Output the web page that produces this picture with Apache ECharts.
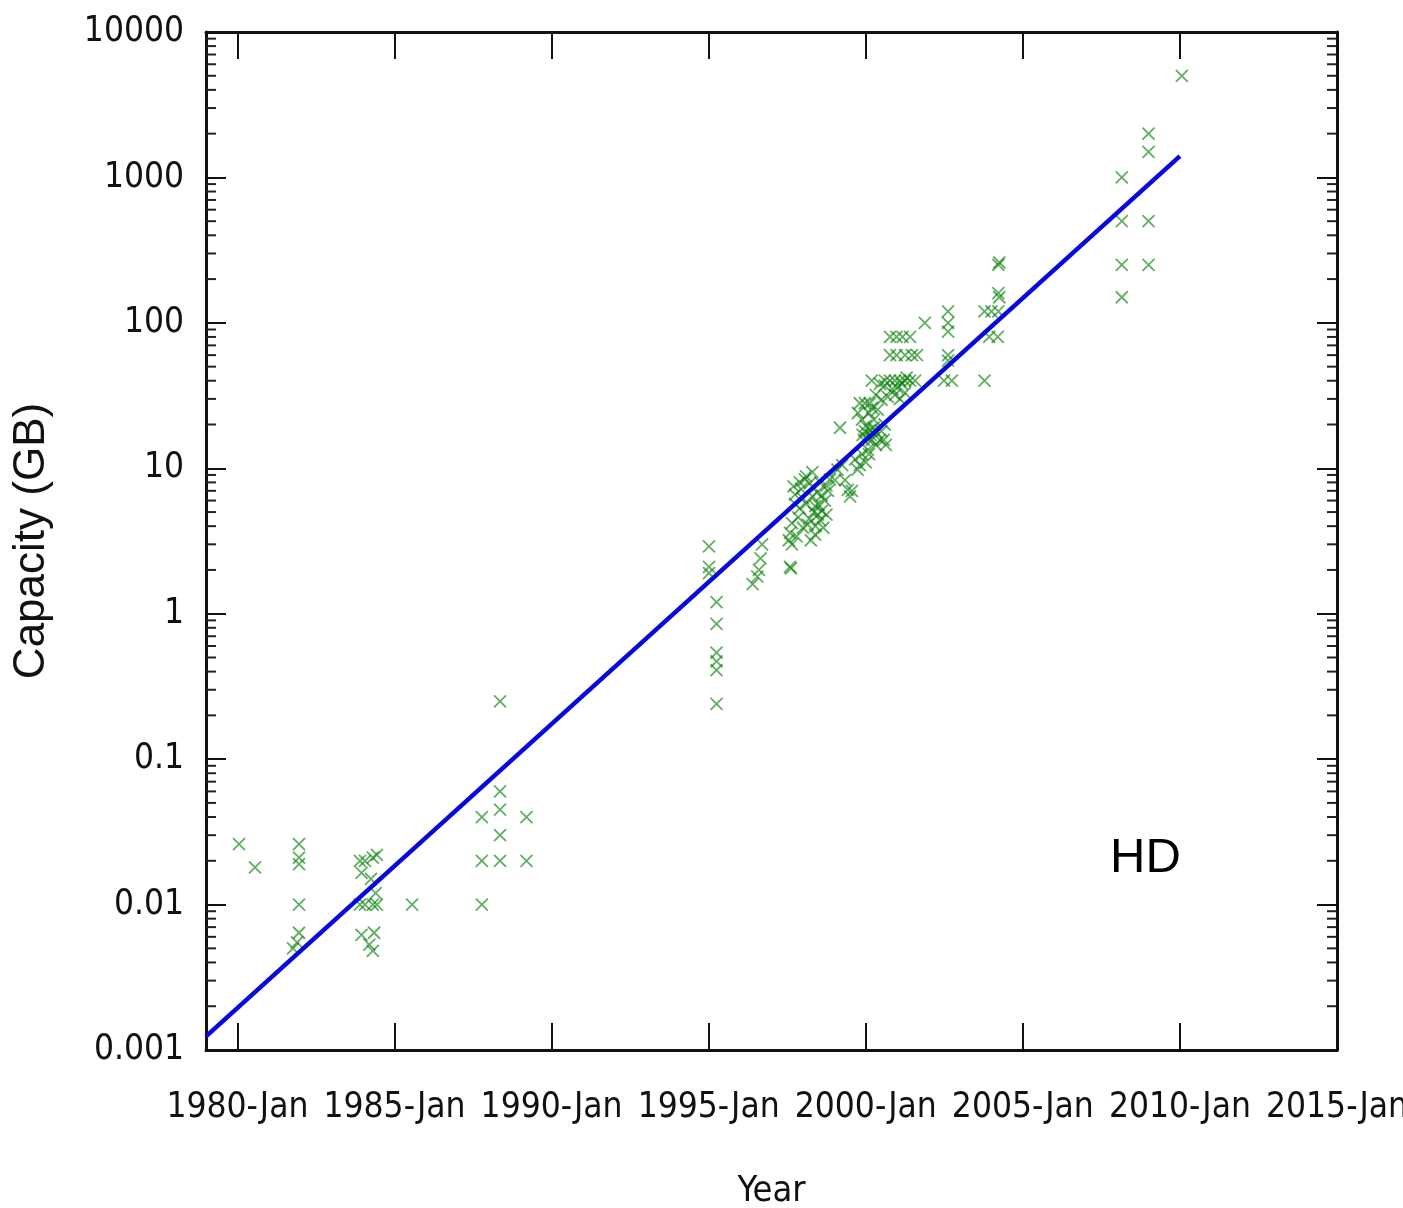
<!DOCTYPE html>
<html>
<head>
<meta charset="utf-8">
<title>HD capacity</title>
<script src="https://cdn.jsdelivr.net/npm/echarts@6/dist/echarts.min.js"></script>
<style>
  html, body { margin: 0; padding: 0; background: #fff; }
  #chart { width: 1403px; height: 1208px; }
</style>
</head>
<body>
<div id="chart"></div>
<script>
// 数据：年份（小数年）和容量 (GB)
const diskYears = [
  1980.05, 1980.56, 1981.96, 1981.96, 1981.96, 1981.96, 1981.96, 1981.90, 1981.77,
  1983.90, 1984.06, 1984.31, 1984.44, 1983.95, 1984.25, 1984.40, 1983.90, 1984.06, 1984.31, 1984.44,
  1983.95, 1984.35, 1984.20, 1984.31, 1985.56,
  1987.78, 1987.78, 1987.78, 1988.36, 1988.36, 1988.36, 1988.36, 1988.36, 1989.20, 1989.20,
  1995.01, 1995.01, 1995.01, 1995.25, 1995.25, 1995.25, 1995.25, 1995.25, 1995.25,
  1996.40, 1996.55, 1996.60, 1996.65, 1996.70, 1997.59, 1997.62,
  1997.55, 1997.59, 1997.65, 1997.75, 1997.90, 1998.06, 1998.22, 1998.30, 1998.39, 1998.48,
  1998.54, 1998.60, 1998.70, 1997.90, 1998.15, 1998.39, 1997.75, 1998.80, 1998.86, 1998.30,
  1997.70, 1998.00, 1998.10, 1998.45, 1998.65, 1998.25, 1997.85,
  1997.65, 1997.80, 1998.00, 1998.20, 1998.35, 1998.50, 1998.60, 1998.75, 1997.95, 1998.10,
  1998.55, 1998.40, 1998.75,
  1999.02, 1999.10, 1999.18, 1999.25, 1999.34, 1999.43, 1999.50, 1999.56, 1999.66, 1999.74,
  1999.81, 1999.88, 1999.94, 1999.97,
  1999.81, 1999.97, 2000.13, 1999.75, 1999.88, 2000.00, 2000.13, 2000.19, 2000.32, 2000.45,
  2000.57, 2000.64, 2000.07, 2000.26, 2000.38, 2000.50, 2000.32, 2000.45, 2000.61, 2000.77,
  2000.93, 2001.09, 2001.25, 2001.41, 2000.19, 2000.70, 2000.93, 2001.09, 2001.25,
  2000.05, 2000.15, 2000.25, 2000.35, 2000.10, 2000.20, 1999.90, 2000.50, 2000.60, 2000.00,
  2000.10, 2000.85, 2001.00, 2001.15, 2001.30, 2000.60,
  2000.77, 2000.98, 2001.17, 2001.41, 2000.77, 2000.98, 2001.25, 2001.47, 2001.63, 2001.57, 2001.88,
  2002.49, 2002.74, 2002.62, 2002.62, 2002.62, 2002.62, 2002.62,
  2003.78, 2003.78, 2004.00, 2004.22, 2003.93, 2004.20, 2004.22, 2004.25, 2004.22, 2004.25,
  2008.15, 2008.15, 2008.15, 2008.15, 2009.00, 2009.00, 2009.00, 2009.00, 2010.06
]
const diskCapacity = [
  0.026, 0.018, 0.026, 0.021, 0.019, 0.010, 0.0064, 0.0055, 0.005,
  0.020, 0.020, 0.021, 0.022, 0.0165, 0.015, 0.012, 0.010, 0.010, 0.010, 0.010,
  0.0062, 0.0064, 0.0053, 0.0048, 0.010,
  0.040, 0.020, 0.010, 0.25, 0.06, 0.045, 0.030, 0.020, 0.040, 0.020,
  2.9, 2.1, 1.9, 1.2, 0.85, 0.54, 0.47, 0.41, 0.24,
  1.6, 1.8, 2.0, 2.4, 3.0, 2.1, 2.05,
  3.2, 3.6, 4.2, 6.6, 8.0, 8.4, 7.9, 6.4, 5.5, 4.8,
  4.4, 5.1, 6.0, 5.3, 4.1, 3.5, 5.7, 7.0, 8.4, 9.4,
  7.5, 6.2, 5.7, 6.8, 3.9, 3.2, 4.6,
  3.0, 3.4, 3.9, 4.5, 5.0, 5.6, 6.5, 7.6, 7.2, 8.8,
  8.0, 4.0, 4.8,
  8.3, 9.8, 19, 10.5, 8.3, 7.1, 6.4, 7.0, 11.5, 9.8,
  10.5, 12.5, 15.7, 18,
  28, 28, 28, 24, 21.6, 19.6, 18.4, 15.7, 14.5, 15.7,
  15.7, 14.5, 13.4, 21.6, 25.3, 29.6, 32, 38, 40, 40,
  40, 40, 40, 40, 40, 31, 32, 30, 33,
  16, 17, 19, 17.5, 24, 26, 17, 18, 20, 11,
  12.5, 35, 36, 38, 42, 37,
  80, 80, 80, 80, 60, 60, 60, 60, 60, 40, 100,
  40, 40, 55, 60, 87, 100, 120,
  40, 120, 120, 120, 80, 80, 160, 150, 250, 260,
  1000, 500, 250, 150, 2000, 1500, 500, 250, 5000
]
// 拟合线
const fitYears = [1979.0, 2010.0]
const fitCapacity = [0.00124, 1400]

// 坐标轴
const xMin = 1979
const xMax = 2015
const xTickYears = [1980, 1985, 1990, 1995, 2000, 2005, 2010, 2015]
const yMin = 0.001
const yMax = 10000
const yTickLabels = ['0.001', '0.01', '0.1', '1', '10', '100', '1000', '10000']
const minorSteps = [2, 3, 4, 5, 6, 7, 8, 9]

const scatterData = diskYears.map((y, i) => [y, diskCapacity[i]])
const fitData = fitYears.map((y, i) => [y, fitCapacity[i]])
const minorData = []
for (let e = -3; e < 4; e++) {
  minorSteps.forEach(k => minorData.push([xMin, k * Math.pow(10, e)]))
}

const tickFont = '"DejaVu Sans Condensed", "Liberation Sans Narrow", "Liberation Sans", sans-serif'
const axisColor = '#111'

const myChart = echarts.init(document.getElementById('chart'), null, { renderer: 'canvas' })
const option = {
  animation: false,
  backgroundColor: '#fff',
  grid: { left: 206, right: 66, top: 32, bottom: 158, containLabel: false, outerBoundsMode: 'none' },
  xAxis: [
    {
      type: 'value',
      min: xMin,
      max: xMax,
      name: 'Year',
      nameLocation: 'middle',
      nameGap: 124,
      nameTextStyle: { fontFamily: tickFont, fontSize: 36, color: axisColor },
      axisLine: { show: true, lineStyle: { color: axisColor, width: 3 } },
      axisTick: { show: true, inside: true, length: 27, customValues: xTickYears, lineStyle: { color: axisColor, width: 2 } },
      axisLabel: {
        customValues: xTickYears,
        showMinLabel: true,
        showMaxLabel: true,
        hideOverlap: false,
        margin: 40,
        fontFamily: tickFont,
        fontSize: 35,
        color: axisColor,
        formatter: v => Math.round(v) + '-Jan'
      },
      splitLine: { show: false }
    },
    {
      type: 'value',
      position: 'top',
      min: xMin,
      max: xMax,
      axisLine: { show: true, lineStyle: { color: axisColor, width: 3 } },
      axisTick: { show: true, inside: true, length: 27, customValues: xTickYears, lineStyle: { color: axisColor, width: 2 } },
      axisLabel: { show: false },
      splitLine: { show: false }
    }
  ],
  yAxis: [
    {
      type: 'log',
      logBase: 10,
      min: yMin,
      max: yMax,
      splitNumber: 7,
      name: 'Capacity (GB)',
      nameLocation: 'middle',
      nameGap: 152,
      nameTextStyle: { fontFamily: '"Liberation Sans", Arial, sans-serif', fontSize: 44, color: axisColor },
      axisLine: { show: true, lineStyle: { color: axisColor, width: 3 } },
      axisTick: { show: true, inside: true, length: 20, lineStyle: { color: axisColor, width: 2 } },
      axisLabel: {
        showMinLabel: true,
        showMaxLabel: true,
        margin: 22,
        fontFamily: tickFont,
        fontSize: 35,
        color: axisColor,
        formatter: v => yTickLabels[Math.round(Math.log10(v)) + 3]
      },
      splitLine: { show: false }
    },
    {
      type: 'log',
      logBase: 10,
      position: 'right',
      min: yMin,
      max: yMax,
      splitNumber: 7,
      axisLine: { show: true, lineStyle: { color: axisColor, width: 3 } },
      axisTick: { show: true, inside: true, length: 20, lineStyle: { color: axisColor, width: 2 } },
      axisLabel: { show: false },
      splitLine: { show: false }
    }
  ],
  graphic: [
    {
      type: 'text',
      left: 1110,
      top: 834,
      style: { text: 'HD', font: '49px "Liberation Sans", Arial, sans-serif', fill: '#000' }
    }
  ],
  series: [
    {
      // 次刻度（log 2..9）
      type: 'custom',
      silent: true,
      data: minorData,
      renderItem: function (params, api) {
        const v = api.value(1)
        const l = api.coord([xMin, v])
        const r = api.coord([xMax, v])
        const style = { stroke: '#222', lineWidth: 2 }
        return {
          type: 'group',
          children: [
            { type: 'line', shape: { x1: l[0], y1: l[1], x2: l[0] + 10, y2: l[1] }, style },
            { type: 'line', shape: { x1: r[0] - 10, y1: r[1], x2: r[0], y2: r[1] }, style }
          ]
        }
      }
    },
    {
      type: 'scatter',
      data: scatterData,
      symbol: 'path://M0,0L10,10M10,0L0,10',
      symbolSize: 12,
      itemStyle: { color: 'rgba(0,0,0,0)', borderColor: 'rgba(10,128,10,0.8)', borderWidth: 1.8 },
      z: 3
    },
    {
      type: 'line',
      data: fitData,
      symbol: 'none',
      lineStyle: { color: '#0808dc', width: 4.5 },
      z: 4
    }
  ]
}
myChart.setOption(option)
</script>
</body>
</html>
